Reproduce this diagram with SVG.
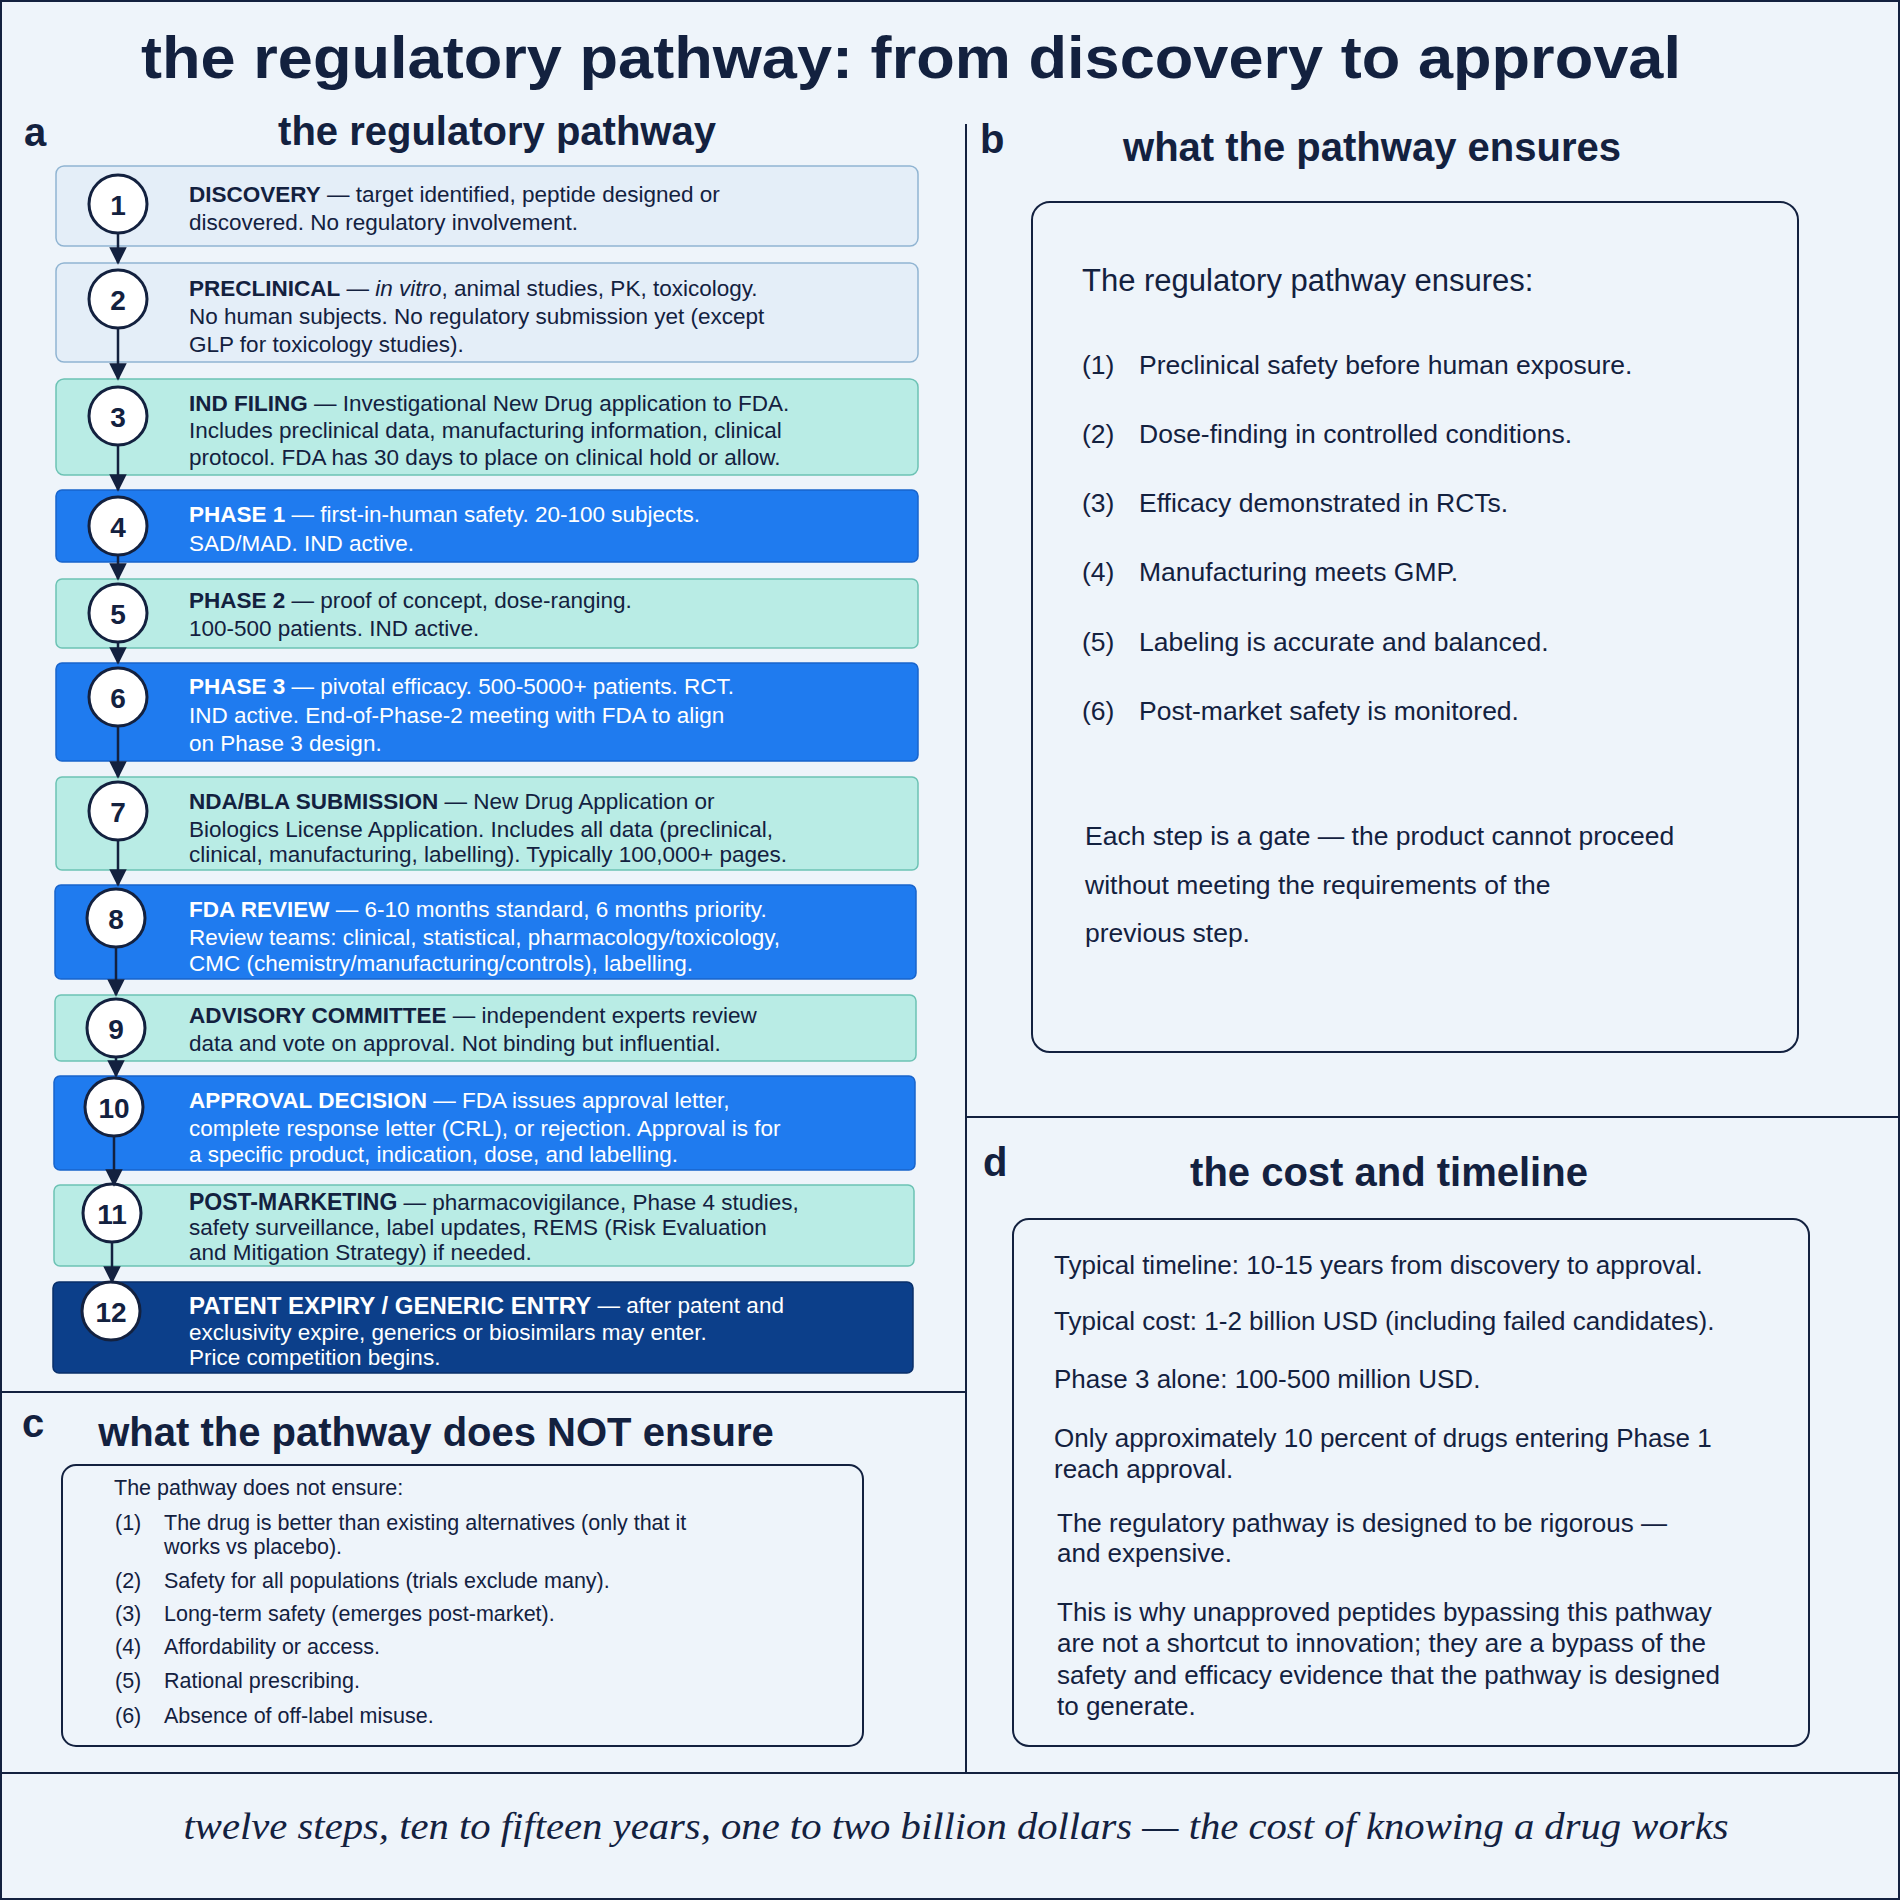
<svg xmlns="http://www.w3.org/2000/svg" width="1900" height="1900" viewBox="0 0 1900 1900">
<defs>
<marker id="ah" viewBox="0 0 10 10" refX="9" refY="5" markerWidth="7" markerHeight="7" orient="auto"><path d="M0,0L10,5L0,10z" fill="#13213f"/></marker>
</defs>
<style>
text{font-family:"Liberation Sans",Arial,sans-serif;fill:#13213f}
.h{font-weight:bold}
.pt{font-size:40px;font-weight:bold;text-anchor:middle}
.pl{font-size:40px;font-weight:bold}
.lt{fill:#e4eef8;stroke:#90b4d2;stroke-width:1.5}
.tl{fill:#b9ece5;stroke:#6cc2b4;stroke-width:1.5}
.bl{fill:#1f7bef;stroke:#1864cc;stroke-width:1.5}
.dk{fill:#0c3f8a;stroke:#082f6a;stroke-width:1.5}
.st{font-size:22.5px;dominant-baseline:central}
.w{fill:#ffffff}
.circ{fill:#fff;stroke:#13213f;stroke-width:3}
.num{font-size:28px;font-weight:bold;text-anchor:middle;dominant-baseline:central}
.fr{fill:none;stroke:#13213f;stroke-width:2}
.conn{stroke:#13213f;stroke-width:2.5;marker-end:url(#ah)}
.b{font-size:26.5px;dominant-baseline:central}
.c{font-size:21.5px;dominant-baseline:central}
.d{font-size:26px;dominant-baseline:central}
</style>
<rect width="1900" height="1900" fill="#eef4fa"/>
<rect x="1" y="1" width="1898" height="1898" fill="none" stroke="#13213f" stroke-width="2"/>
<g id="dividers" stroke="#13213f" stroke-width="2">
<line x1="966" y1="124" x2="966" y2="1773"/>
<line x1="966" y1="1117" x2="1900" y2="1117"/>
<line x1="0" y1="1392" x2="966" y2="1392"/>
<line x1="0" y1="1773" x2="1900" y2="1773"/>
</g>
<text x="911" y="78" font-size="60" font-weight="bold" text-anchor="middle" textLength="1540" lengthAdjust="spacingAndGlyphs">the regulatory pathway: from discovery to approval</text>

<text class="pl" x="24" y="146">a</text>
<text class="pt" x="497" y="145">the regulatory pathway</text>

<g id="step1"><rect class="lt" x="56" y="166" width="862" height="80" rx="8"/><circle class="circ" cx="118" cy="204" r="29"/><text class="num" x="118" y="205">1</text>
<text class="st" x="189" y="194"><tspan class="h">DISCOVERY</tspan> — target identified, peptide designed or</text><text class="st" x="189" y="222">discovered. No regulatory involvement.</text></g>

<g id="step2"><rect class="lt" x="56" y="263" width="862" height="99" rx="8"/><circle class="circ" cx="118" cy="299" r="29"/><text class="num" x="118" y="300">2</text>
<text class="st" x="189" y="288"><tspan class="h">PRECLINICAL</tspan> — <tspan font-style="italic">in vitro</tspan>, animal studies, PK, toxicology.</text><text class="st" x="189" y="316">No human subjects. No regulatory submission yet (except</text><text class="st" x="189" y="344">GLP for toxicology studies).</text></g>

<g id="step3"><rect class="tl" x="56" y="379" width="862" height="96" rx="8"/><circle class="circ" cx="118" cy="416" r="29"/><text class="num" x="118" y="417">3</text>
<text class="st" x="189" y="403"><tspan class="h">IND FILING</tspan> — Investigational New Drug application to FDA.</text><text class="st" x="189" y="430">Includes preclinical data, manufacturing information, clinical</text><text class="st" x="189" y="457">protocol. FDA has 30 days to place on clinical hold or allow.</text></g>

<g id="step4"><rect class="bl" x="56" y="490" width="862" height="72" rx="6"/><circle class="circ" cx="118" cy="526" r="29"/><text class="num" x="118" y="527">4</text>
<text class="st w" x="189" y="514"><tspan class="h">PHASE 1</tspan> — first-in-human safety. 20-100 subjects.</text><text class="st w" x="189" y="543">SAD/MAD. IND active.</text></g>

<g id="step5"><rect class="tl" x="56" y="579" width="862" height="69" rx="6"/><circle class="circ" cx="118" cy="613" r="29"/><text class="num" x="118" y="614">5</text>
<text class="st" x="189" y="600"><tspan class="h">PHASE 2</tspan> — proof of concept, dose-ranging.</text><text class="st" x="189" y="628">100-500 patients. IND active.</text></g>

<g id="step6"><rect class="bl" x="56" y="663" width="862" height="98" rx="6"/><circle class="circ" cx="118" cy="697" r="29"/><text class="num" x="118" y="698">6</text>
<text class="st w" x="189" y="686"><tspan class="h">PHASE 3</tspan> — pivotal efficacy. 500-5000+ patients. RCT.</text><text class="st w" x="189" y="715">IND active. End-of-Phase-2 meeting with FDA to align</text><text class="st w" x="189" y="743">on Phase 3 design.</text></g>

<g id="step7"><rect class="tl" x="56" y="777" width="862" height="93" rx="6"/><circle class="circ" cx="118" cy="811" r="29"/><text class="num" x="118" y="812">7</text>
<text class="st" x="189" y="801"><tspan class="h">NDA/BLA SUBMISSION</tspan> — New Drug Application or</text><text class="st" x="189" y="829">Biologics License Application. Includes all data (preclinical,</text><text class="st" x="189" y="854">clinical, manufacturing, labelling). Typically 100,000+ pages.</text></g>

<g id="step8"><rect class="bl" x="55" y="885" width="861" height="94" rx="6"/><circle class="circ" cx="116" cy="918" r="29"/><text class="num" x="116" y="919">8</text>
<text class="st w" x="189" y="909"><tspan class="h">FDA REVIEW</tspan> — 6-10 months standard, 6 months priority.</text><text class="st w" x="189" y="937">Review teams: clinical, statistical, pharmacology/toxicology,</text><text class="st w" x="189" y="963">CMC (chemistry/manufacturing/controls), labelling.</text></g>

<g id="step9"><rect class="tl" x="55" y="995" width="861" height="66" rx="6"/><circle class="circ" cx="116" cy="1028" r="29"/><text class="num" x="116" y="1029">9</text>
<text class="st" x="189" y="1015"><tspan class="h">ADVISORY COMMITTEE</tspan> — independent experts review</text><text class="st" x="189" y="1043">data and vote on approval. Not binding but influential.</text></g>

<g id="step10"><rect class="bl" x="54" y="1076" width="861" height="94" rx="6"/><circle class="circ" cx="114" cy="1107" r="29"/><text class="num" x="114" y="1108">10</text>
<text class="st w" x="189" y="1100"><tspan class="h">APPROVAL DECISION</tspan> — FDA issues approval letter,</text><text class="st w" x="189" y="1128">complete response letter (CRL), or rejection. Approval is for</text><text class="st w" x="189" y="1154">a specific product, indication, dose, and labelling.</text></g>

<g id="step11"><rect class="tl" x="54" y="1185" width="860" height="81" rx="6"/><circle class="circ" cx="112" cy="1213" r="29"/><text class="num" x="112" y="1214">11</text>
<text class="st" x="189" y="1202" font-size="19"><tspan class="h" font-size="23">POST-MARKETING</tspan> — pharmacovigilance, Phase 4 studies,</text><text class="st" x="189" y="1227" font-size="19">safety surveillance, label updates, REMS (Risk Evaluation</text><text class="st" x="189" y="1252" font-size="19">and Mitigation Strategy) if needed.</text></g>

<g id="step12"><rect class="dk" x="53" y="1282" width="860" height="91" rx="6"/><circle class="circ" cx="111" cy="1311" r="29"/><text class="num" x="111" y="1312">12</text>
<text class="st w" x="189" y="1305" font-size="19.5"><tspan class="h" font-size="24">PATENT EXPIRY / GENERIC ENTRY</tspan> — after patent and</text><text class="st w" x="189" y="1332" font-size="19.5">exclusivity expire, generics or biosimilars may enter.</text><text class="st w" x="189" y="1357" font-size="19.5">Price competition begins.</text></g>

<g id="connectors">
<line class="conn" x1="118" y1="233" x2="118" y2="263"/>
<line class="conn" x1="118" y1="328" x2="118" y2="379"/>
<line class="conn" x1="118" y1="445" x2="118" y2="490"/>
<line class="conn" x1="118" y1="555" x2="118" y2="579"/>
<line class="conn" x1="118" y1="642" x2="118" y2="663"/>
<line class="conn" x1="118" y1="726" x2="118" y2="777"/>
<line class="conn" x1="118" y1="840" x2="118" y2="885"/>
<line class="conn" x1="116" y1="947" x2="116" y2="995"/>
<line class="conn" x1="116" y1="1057" x2="116" y2="1076"/>
<line class="conn" x1="114" y1="1136" x2="114" y2="1185"/>
<line class="conn" x1="112" y1="1242" x2="112" y2="1282"/>
</g>

<g id="panel-b">
<text class="pl" x="980" y="153">b</text>
<text class="pt" x="1372" y="161">what the pathway ensures</text>
<rect class="fr" x="1032" y="202" width="766" height="850" rx="18"/>
<text x="1082" y="280" font-size="31" dominant-baseline="central">The regulatory pathway ensures:</text>
<text class="b" x="1082" y="365">(1)</text><text class="b" x="1139" y="365">Preclinical safety before human exposure.</text>
<text class="b" x="1082" y="434">(2)</text><text class="b" x="1139" y="434">Dose-finding in controlled conditions.</text>
<text class="b" x="1082" y="503">(3)</text><text class="b" x="1139" y="503">Efficacy demonstrated in RCTs.</text>
<text class="b" x="1082" y="572">(4)</text><text class="b" x="1139" y="572">Manufacturing meets GMP.</text>
<text class="b" x="1082" y="642">(5)</text><text class="b" x="1139" y="642">Labeling is accurate and balanced.</text>
<text class="b" x="1082" y="711">(6)</text><text class="b" x="1139" y="711">Post-market safety is monitored.</text>
<text class="b" x="1085" y="836" font-size="28.5">Each step is a gate — the product cannot proceed</text>
<text class="b" x="1085" y="885" font-size="28.5">without meeting the requirements of the</text>
<text class="b" x="1085" y="933" font-size="28.5">previous step.</text>
</g>

<g id="panel-c">
<text class="pl" x="22" y="1437">c</text>
<text class="pt" x="436" y="1446">what the pathway does NOT ensure</text>
<rect class="fr" x="62" y="1465" width="801" height="281" rx="14"/>
<text class="c" x="114" y="1488">The pathway does not ensure:</text>
<text class="c" x="115" y="1523">(1)</text><text class="c" x="164" y="1523">The drug is better than existing alternatives (only that it</text>
<text class="c" x="164" y="1547">works vs placebo).</text>
<text class="c" x="115" y="1581">(2)</text><text class="c" x="164" y="1581">Safety for all populations (trials exclude many).</text>
<text class="c" x="115" y="1614">(3)</text><text class="c" x="164" y="1614">Long-term safety (emerges post-market).</text>
<text class="c" x="115" y="1647">(4)</text><text class="c" x="164" y="1647">Affordability or access.</text>
<text class="c" x="115" y="1681">(5)</text><text class="c" x="164" y="1681">Rational prescribing.</text>
<text class="c" x="115" y="1716">(6)</text><text class="c" x="164" y="1716">Absence of off-label misuse.</text>
</g>

<g id="panel-d">
<text class="pl" x="983" y="1176">d</text>
<text class="pt" x="1389" y="1186">the cost and timeline</text>
<rect class="fr" x="1013" y="1219" width="796" height="527" rx="16"/>
<text class="d" x="1054" y="1265">Typical timeline: 10-15 years from discovery to approval.</text>
<text class="d" x="1054" y="1321">Typical cost: 1-2 billion USD (including failed candidates).</text>
<text class="d" x="1054" y="1379">Phase 3 alone: 100-500 million USD.</text>
<text class="d" x="1054" y="1438">Only approximately 10 percent of drugs entering Phase 1</text>
<text class="d" x="1054" y="1469">reach approval.</text>
<text class="d" x="1057" y="1523">The regulatory pathway is designed to be rigorous —</text>
<text class="d" x="1057" y="1553">and expensive.</text>
<text class="d" x="1057" y="1612">This is why unapproved peptides bypassing this pathway</text>
<text class="d" x="1057" y="1643">are not a shortcut to innovation; they are a bypass of the</text>
<text class="d" x="1057" y="1675">safety and efficacy evidence that the pathway is designed</text>
<text class="d" x="1057" y="1706">to generate.</text>
</g>

<text x="956" y="1839" font-style="italic" font-size="38" text-anchor="middle" textLength="1545" lengthAdjust="spacingAndGlyphs" style="font-family:'Liberation Serif',serif">twelve steps, ten to fifteen years, one to two billion dollars — the cost of knowing a drug works</text>
</svg>
